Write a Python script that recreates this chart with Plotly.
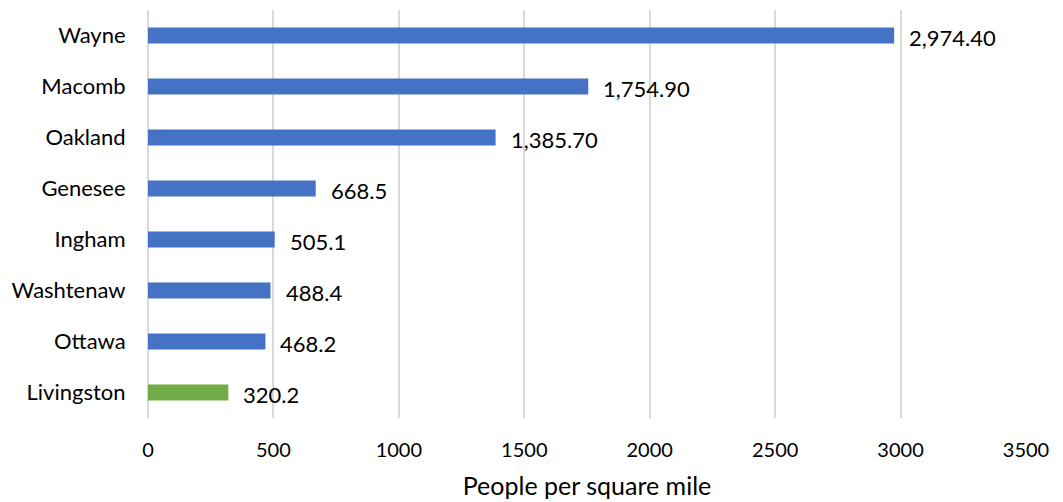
import plotly.graph_objects as go

counties = ["Wayne", "Macomb", "Oakland", "Genesee", "Ingham", "Washtenaw", "Ottawa", "Livingston"]
density = [2974.40, 1754.90, 1385.70, 668.5, 505.1, 488.4, 468.2, 320.2]
labels = ["2,974.40", "1,754.90", "1,385.70", "668.5", "505.1", "488.4", "468.2", "320.2"]
highlight = "Livingston"

BLUE = "#4472C4"
GREEN = "#70AD47"
colors = [GREEN if c == highlight else BLUE for c in counties]
FONT = "Lato, Carlito, Calibri, sans-serif"

fig = go.Figure(go.Bar(
    x=density, y=counties, orientation="h",
    marker=dict(color=colors, line=dict(width=0)),
    hoverinfo="skip",
))

for c, v, t in zip(counties, density, labels):
    fig.add_annotation(x=v, y=c, text=t, showarrow=False, xanchor="left",
                       xshift=13, yshift=-2, font=dict(family=FONT, size=22, color="#000000"))

fig.update_layout(
    width=1055, height=494,
    margin=dict(l=140, r=37, t=2, b=84, autoexpand=False),
    paper_bgcolor="white", plot_bgcolor="white",
    bargap=0.69,
    showlegend=False,
    font=dict(family=FONT, size=22, color="#000000"),
    xaxis=dict(
        range=[0, 3500], dtick=500, tick0=0,
        showgrid=True, gridcolor="#D9D9D9", gridwidth=2,
        zeroline=True, zerolinecolor="#D9D9D9", zerolinewidth=2,
        showline=False, automargin=False,
        ticks="outside", ticklen=14, tickcolor="rgba(0,0,0,0)",
        tickfont=dict(family=FONT, size=20, color="#000000"),
        title=dict(text="People per square mile", font=dict(family=FONT, size=25, color="#000000"), standoff=17),
        fixedrange=True,
    ),
    yaxis=dict(
        autorange="reversed",
        showgrid=False, zeroline=False, showline=False, automargin=False,
        ticks="outside", ticklen=17, tickcolor="rgba(0,0,0,0)",
        tickfont=dict(family=FONT, size=22, color="#000000"),
        fixedrange=True,
    ),
)

fig.write_html("out.html")
